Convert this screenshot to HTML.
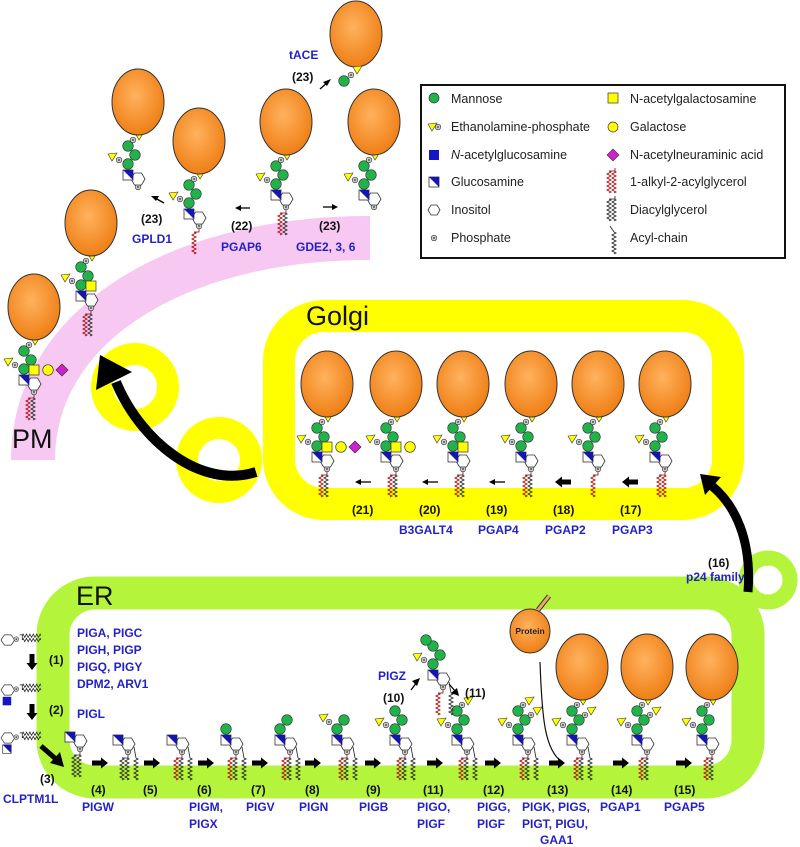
<!DOCTYPE html>
<html><head><meta charset="utf-8"><style>
html,body{margin:0;padding:0;background:#fff}
svg{display:block}
.b{font-family:"Liberation Sans",sans-serif;font-weight:bold;font-size:12px;fill:#2222cc}
.k{font-family:"Liberation Sans",sans-serif;font-weight:bold;font-size:12px;fill:#111}
.lg{font-family:"Liberation Sans",sans-serif;font-size:12.5px;fill:#222}
.big{font-family:"Liberation Sans",sans-serif;font-size:27px;fill:#111}
</style></head><body>
<svg width="800" height="847" viewBox="0 0 800 847" xmlns="http://www.w3.org/2000/svg">
<defs>
<radialGradient id="og" cx="45%" cy="40%" r="60%"><stop offset="0" stop-color="#ffb25e"/><stop offset="1" stop-color="#ef7f15"/></radialGradient>
<ellipse id="bal" cx="0" cy="-88" rx="26" ry="33" fill="url(#og)" stroke="#333" stroke-width="1"/>
<path id="zz" d="M0,0 l2,1 l-4,2 l4,2 l-4,2 l4,2 l-4,2 l4,2 l-4,2 l4,2 l-4,2 l4,2 l-2,1" fill="none" stroke-width="0.9"/>
<g id="P"><circle r="2.8" fill="#ccc" stroke="#333" stroke-width="0.6"/><circle r="0.9" fill="#333"/></g>
<g id="tri"><polygon points="-4,-3 5,-4 0,4" fill="#ff0" stroke="#333" stroke-width="0.6"/></g>
<g id="base">
 <use href="#P" x="0" y="-3"/>
 <polygon points="7,-11 3.5,-5 -3.5,-5 -7,-11 -3.5,-17 3.5,-17" fill="#fff" stroke="#333" stroke-width="0.8"/>
 <rect x="-15" y="-20" width="10" height="10" fill="#fff" stroke="#333" stroke-width="0.8"/>
 <polygon points="-15,-20 -5,-20 -5,-10" fill="#1515b0"/>
</g>
<g id="man">
 <circle cx="-10" cy="-26" r="5.3" fill="#1fb34a" stroke="#333" stroke-width="0.6"/>
 <circle cx="-3" cy="-35" r="5.3" fill="#1fb34a" stroke="#333" stroke-width="0.6"/>
 <circle cx="-10" cy="-44" r="5.3" fill="#1fb34a" stroke="#333" stroke-width="0.6"/>
 <use href="#P" x="-19" y="-30"/><use href="#tri" x="-26" y="-33"/>
</g>
<g id="top"><use href="#P" x="-5" y="-50"/><use href="#tri" x="1" y="-54"/></g>
<g id="full"><use href="#base"/><use href="#man"/><use href="#top"/><use href="#bal"/></g>
<g id="lipRA"><path d="M0,0 V3 H-6" fill="none" stroke="#900" stroke-width="0.8"/><use href="#zz" x="-6" y="3" stroke="#a00"/><use href="#zz" x="-1" y="3" stroke="#222"/></g>
<g id="lipBB"><path d="M0,0 V3 H-6" fill="none" stroke="#222" stroke-width="0.8"/><use href="#zz" x="-6" y="3" stroke="#222"/><use href="#zz" x="-1" y="3" stroke="#222"/></g>
<g id="lipRR"><path d="M0,0 V3 H-6" fill="none" stroke="#900" stroke-width="0.8"/><use href="#zz" x="-6" y="3" stroke="#a00"/><use href="#zz" x="-1" y="3" stroke="#a00"/></g>
<g id="lipR"><path d="M0,0 V3 H-5" fill="none" stroke="#900" stroke-width="0.8"/><use href="#zz" x="-5" y="3" stroke="#a00"/></g>
<g id="acyl"><path d="M6,-8 L8,3" fill="none" stroke="#222" stroke-width="0.8"/><use href="#zz" x="8" y="3" stroke="#222"/></g>
<g id="ar"><polygon points="-8,-2.5 1,-2.5 1,-5.5 8,0 1,5.5 1,2.5 -8,2.5" fill="#000"/></g>
<g id="gal1"><rect x="-5" y="-30" width="10" height="10" fill="#ff0" stroke="#333" stroke-width="0.7"/></g>
<g id="gal2"><circle cx="14" cy="-25" r="5.3" fill="#ff0" stroke="#333" stroke-width="0.7"/></g>
<g id="gal3"><polygon points="28,-31 34,-25 28,-19 22,-25" fill="#d020d0" stroke="#333" stroke-width="0.7"/></g>
</defs>

<!-- PM -->
<path d="M33,460 C 33,330 170,238 370,238" fill="none" stroke="#f7c8f1" stroke-width="44"/>
<text class="big" x="12" y="448">PM</text>

<!-- Golgi -->
<rect x="279" y="316" width="449" height="188" rx="45" fill="none" stroke="#ffff00" stroke-width="32"/>
<text class="big" x="306" y="325">Golgi</text>
<circle cx="135" cy="387" r="33" fill="none" stroke="#ffff00" stroke-width="22"/>
<circle cx="219" cy="460" r="32" fill="none" stroke="#ffff00" stroke-width="22"/>
<path d="M256,472 C 200,490 140,440 116,382" fill="none" stroke="#000" stroke-width="10"/>
<polygon points="100,355 96,390 132,372" fill="#000"/>

<!-- ER -->
<rect x="53" y="593" width="695" height="189" rx="42" fill="none" stroke="#b4f43a" stroke-width="33"/>
<circle cx="768" cy="580" r="22" fill="none" stroke="#b4f43a" stroke-width="15"/>
<text class="big" x="76" y="605">ER</text>
<path d="M748,592 C 752,540 735,505 712,486" fill="none" stroke="#000" stroke-width="9"/>
<polygon points="700,474 721,477 705,495" fill="#000"/>
<text class="k" x="708" y="567">(16)</text>
<text class="b" x="686" y="581">p24 family</text>

<!-- Legend -->
<rect x="421" y="85" width="364" height="173" fill="#fff" stroke="#111" stroke-width="2"/>
<circle cx="434" cy="98" r="5" fill="#1fb34a" stroke="#333" stroke-width="0.7"/>
<use href="#tri" x="432" y="127"/><use href="#P" x="438" y="127"/>
<rect x="429" y="150" width="10" height="10" fill="#1515c8"/>
<rect x="429" y="177" width="10" height="10" fill="#fff" stroke="#333" stroke-width="0.8"/><polygon points="429,177 439,177 439,187" fill="#1515b0"/>
<polygon points="440,210 437,215 431,215 428,210 431,205 437,205" fill="#fff" stroke="#333" stroke-width="0.8"/>
<use href="#P" x="434" y="238"/>
<rect x="608" y="93" width="10" height="10" fill="#ff0" stroke="#333" stroke-width="0.7"/>
<circle cx="613" cy="127" r="5" fill="#ff0" stroke="#333" stroke-width="0.7"/>
<polygon points="613,149 619,155 613,161 607,155" fill="#d020d0" stroke="#333" stroke-width="0.6"/>
<use href="#lipRR" x="615" y="168"/>
<use href="#lipBB" x="615" y="196"/>
<path d="M610,226 L614,232" stroke="#222" stroke-width="0.8"/><use href="#zz" x="614" y="232" stroke="#222"/>
<g class="lg">
<text x="451" y="103">Mannose</text>
<text x="451" y="131">Ethanolamine-phosphate</text>
<text x="451" y="159"><tspan font-style="italic">N</tspan>-acetylglucosamine</text>
<text x="451" y="186">Glucosamine</text>
<text x="451" y="214">Inositol</text>
<text x="451" y="242">Phosphate</text>
<text x="630" y="103">N-acetylgalactosamine</text>
<text x="630" y="131">Galactose</text>
<text x="630" y="159">N-acetylneuraminic acid</text>
<text x="630" y="186">1-alkyl-2-acylglycerol</text>
<text x="630" y="214">Diacylglycerol</text>
<text x="630" y="242">Acyl-chain</text>
</g>

<!-- PM structures -->
<use href="#full" x="138" y="190"/>
<use href="#full" x="199" y="229"/><use href="#lipR" x="199" y="229"/>
<use href="#full" x="286" y="210"/><use href="#lipRA" x="286" y="210"/>
<use href="#full" x="374" y="210"/>
<ellipse cx="356" cy="34" rx="26" ry="33" fill="url(#og)" stroke="#333"/>
<use href="#tri" x="357" y="70"/><use href="#P" x="351" y="75"/>
<circle cx="344" cy="81" r="5.3" fill="#1fb34a" stroke="#333" stroke-width="0.6"/>
<use href="#full" x="91" y="311"/><use href="#gal1" x="91" y="311"/><use href="#lipRA" x="91" y="311"/>
<use href="#full" x="34" y="395"/><use href="#gal1" x="34" y="395"/><use href="#gal2" x="34" y="395"/><use href="#gal3" x="34" y="395"/><use href="#lipRA" x="34" y="395"/>
<text class="b" x="289" y="59">tACE</text>
<text class="k" x="292" y="81">(23)</text>
<path d="M320,89 L328,82" stroke="#000" stroke-width="1.3"/><polygon points="331,79 323,82 327,86" fill="#000"/>
<text class="k" x="141" y="223">(23)</text>
<text class="b" x="132" y="243">GPLD1</text>
<path d="M164,203 L155,198" stroke="#000" stroke-width="1.3"/><polygon points="151,196 159,196 156,201" fill="#000"/>
<text class="k" x="231" y="230">(22)</text>
<text class="b" x="221" y="251">PGAP6</text>
<path d="M250,208 L240,208" stroke="#000" stroke-width="1.3"/><polygon points="235,208 241,205 241,211" fill="#000"/>
<text class="k" x="319" y="230">(23)</text>
<text class="b" x="296" y="251">GDE2, 3, 6</text>
<path d="M323,207 L333,207" stroke="#000" stroke-width="1.3"/><polygon points="338,207 332,204 332,210" fill="#000"/>

<!-- Golgi structures -->
<use href="#full" x="327" y="472"/><use href="#gal1" x="327" y="472"/><use href="#gal2" x="327" y="472"/><use href="#gal3" x="327" y="472"/><use href="#lipRA" x="327" y="472"/>
<use href="#full" x="396" y="472"/><use href="#gal1" x="396" y="472"/><use href="#gal2" x="396" y="472"/><use href="#lipRA" x="396" y="472"/>
<use href="#full" x="463" y="472"/><use href="#gal1" x="463" y="472"/><use href="#lipRA" x="463" y="472"/>
<use href="#full" x="531" y="472"/><use href="#lipRA" x="531" y="472"/>
<use href="#full" x="598" y="472"/><use href="#lipR" x="598" y="472"/>
<use href="#full" x="665" y="472"/><use href="#lipRR" x="665" y="472"/>
<g stroke="#000" stroke-width="1.3">
<path d="M371,482 H358"/><path d="M438,482 H425"/><path d="M505,482 H492"/>
</g>
<polygon points="355,482 361,479 361,485" fill="#000"/><polygon points="422,482 428,479 428,485" fill="#000"/><polygon points="489,482 495,479 495,485" fill="#000"/>
<use href="#ar" x="563" y="482" transform="rotate(180 563 482)"/>
<use href="#ar" x="630" y="482" transform="rotate(180 630 482)"/>
<text class="k" x="352" y="514">(21)</text><text class="k" x="419" y="514">(20)</text><text class="k" x="486" y="514">(19)</text><text class="k" x="553" y="514">(18)</text><text class="k" x="620" y="514">(17)</text>
<text class="b" x="399" y="534">B3GALT4</text><text class="b" x="478" y="534">PGAP4</text><text class="b" x="545" y="534">PGAP2</text><text class="b" x="612" y="534">PGAP3</text>

<!-- ER left pre-steps -->
<g transform="translate(18,640) scale(0.85)">
<polygon points="-4,0 -8,6 -16,6 -20,0 -16,-6 -8,-6" fill="#fff" stroke="#333" stroke-width="0.8"/><use href="#P" x="-2" y="-1"/>
<use href="#lipBB" x="2" y="-6" transform="rotate(-90 2 -6)"/>
</g>
<g transform="translate(18,690) scale(0.85)">
<polygon points="-4,0 -8,6 -16,6 -20,0 -16,-6 -8,-6" fill="#fff" stroke="#333" stroke-width="0.8"/><use href="#P" x="-2" y="-1"/>
<use href="#lipBB" x="2" y="-6" transform="rotate(-90 2 -6)"/>
<rect x="-18" y="8" width="10" height="10" fill="#1515c8"/>
</g>
<g transform="translate(18,738) scale(0.85)">
<polygon points="-4,0 -8,6 -16,6 -20,0 -16,-6 -8,-6" fill="#fff" stroke="#333" stroke-width="0.8"/><use href="#P" x="-2" y="-1"/>
<use href="#lipBB" x="2" y="-6" transform="rotate(-90 2 -6)"/>
<rect x="-18" y="8" width="10" height="10" fill="#fff" stroke="#333" stroke-width="0.8"/><polygon points="-18,8 -8,8 -8,18" fill="#1515b0"/>
</g>
<use href="#ar" x="32" y="662" transform="rotate(90 32 662)"/>
<use href="#ar" x="32" y="712" transform="rotate(90 32 712)"/>
<path d="M41,746 L57,760" stroke="#000" stroke-width="5"/><polygon points="64,767 50,763 60,752" fill="#000"/>
<text class="k" x="49" y="664">(1)</text>
<text class="k" x="49" y="714">(2)</text>
<text class="k" x="40" y="783">(3)</text>
<text class="b" x="3" y="803">CLPTM1L</text>
<text class="b" x="77" y="637">PIGA, PIGC</text>
<text class="b" x="77" y="654">PIGH, PIGP</text>
<text class="b" x="77" y="671">PIGQ, PIGY</text>
<text class="b" x="77" y="688">DPM2, ARV1</text>
<text class="b" x="77" y="718">PIGL</text>

<!-- ER structures -->
<use href="#base" x="80" y="752"/><use href="#lipBB" x="80" y="752"/>
<use href="#base" x="128" y="755"/><use href="#lipBB" x="128" y="755"/><use href="#acyl" x="128" y="755"/>
<use href="#base" x="182" y="755"/><use href="#lipRA" x="182" y="755"/><use href="#acyl" x="182" y="755"/>
<use href="#base" x="236" y="755"/><use href="#lipRA" x="236" y="755"/><use href="#acyl" x="236" y="755"/>
<circle cx="226" cy="729" r="5.3" fill="#1fb34a" stroke="#333" stroke-width="0.6"/>
<use href="#base" x="290" y="755"/><use href="#lipRA" x="290" y="755"/><use href="#acyl" x="290" y="755"/>
<circle cx="280" cy="729" r="5.3" fill="#1fb34a" stroke="#333" stroke-width="0.6"/><circle cx="287" cy="720" r="5.3" fill="#1fb34a" stroke="#333" stroke-width="0.6"/>
<use href="#base" x="347" y="755"/><use href="#lipRA" x="347" y="755"/><use href="#acyl" x="347" y="755"/>
<circle cx="337" cy="729" r="5.3" fill="#1fb34a" stroke="#333" stroke-width="0.6"/><circle cx="344" cy="720" r="5.3" fill="#1fb34a" stroke="#333" stroke-width="0.6"/>
<use href="#P" x="329" y="722"/><use href="#tri" x="323" y="718"/>
<use href="#base" x="405" y="755"/><use href="#man" x="405" y="755"/><use href="#lipRA" x="405" y="755"/><use href="#acyl" x="405" y="755"/>
<use href="#base" x="467" y="755"/><use href="#man" x="467" y="755"/><use href="#top" x="467" y="755"/><use href="#lipRA" x="467" y="755"/><use href="#acyl" x="467" y="755"/>
<use href="#base" x="528" y="755"/><use href="#man" x="528" y="755"/><use href="#top" x="528" y="755"/><use href="#lipRA" x="528" y="755"/><use href="#acyl" x="528" y="755"/>
<use href="#P" x="531" y="715"/><use href="#tri" x="537" y="711"/>
<use href="#full" x="582" y="755"/><use href="#lipRA" x="582" y="755"/><use href="#acyl" x="582" y="755"/>
<use href="#P" x="585" y="715"/><use href="#tri" x="591" y="711"/>
<use href="#full" x="647" y="755"/><use href="#lipRA" x="647" y="755"/>
<use href="#P" x="650" y="715"/><use href="#tri" x="656" y="711"/>
<use href="#full" x="712" y="755"/><use href="#lipRA" x="712" y="755"/>
<!-- PIGZ branch -->
<use href="#base" x="443" y="690"/><use href="#man" x="443" y="690"/><use href="#lipR" x="443" y="690"/><use href="#acyl" x="443" y="690"/>
<circle cx="426" cy="640" r="5.3" fill="#1fb34a" stroke="#333" stroke-width="0.6"/>
<text class="b" x="378" y="680">PIGZ</text>
<text class="k" x="383" y="702">(10)</text>
<path d="M411,690 L417,682" stroke="#000" stroke-width="1.3"/><polygon points="420,678 412,681 417,686" fill="#000"/>
<text class="k" x="465" y="697">(11)</text>
<path d="M449,684 L456,692" stroke="#000" stroke-width="1.3"/><polygon points="459,696 451,693 457,688" fill="#000"/>
<!-- Protein -->
<path d="M538,610 L549,596" stroke="#333" stroke-width="5"/><path d="M538,610 L549,596" stroke="#f0a860" stroke-width="3"/>
<ellipse cx="530" cy="631" rx="20" ry="22" fill="url(#og)" stroke="#333"/>
<text x="530" y="634" text-anchor="middle" style="font-family:'Liberation Sans',sans-serif;font-weight:bold;font-size:8.5px;fill:#222">Protein</text>
<path d="M540,662 C 542,720 545,750 562,762" fill="none" stroke="#111" stroke-width="1.2"/>

<g>
<use href="#ar" x="100" y="763"/><use href="#ar" x="152" y="763"/><use href="#ar" x="206" y="763"/><use href="#ar" x="260" y="763"/><use href="#ar" x="313" y="763"/><use href="#ar" x="373" y="763"/><use href="#ar" x="435" y="763"/><use href="#ar" x="493" y="763"/><use href="#ar" x="557" y="763"/><use href="#ar" x="621" y="763"/><use href="#ar" x="684" y="763"/>
</g>
<g class="k">
<text x="91" y="794">(4)</text><text x="143" y="794">(5)</text><text x="197" y="794">(6)</text><text x="251" y="794">(7)</text><text x="305" y="794">(8)</text><text x="366" y="794">(9)</text>
<text x="423" y="794">(11)</text><text x="483" y="794">(12)</text><text x="547" y="794">(13)</text><text x="611" y="794">(14)</text><text x="674" y="794">(15)</text>
</g>
<g class="b">
<text x="82" y="811">PIGW</text>
<text x="189" y="811">PIGM,</text><text x="189" y="828">PIGX</text>
<text x="246" y="811">PIGV</text>
<text x="299" y="811">PIGN</text>
<text x="359" y="811">PIGB</text>
<text x="417" y="811">PIGO,</text><text x="417" y="828">PIGF</text>
<text x="477" y="811">PIGG,</text><text x="477" y="828">PIGF</text>
<text x="522" y="811">PIGK, PIGS,</text><text x="522" y="828">PIGT, PIGU,</text><text x="540" y="844">GAA1</text>
<text x="600" y="811">PGAP1</text>
<text x="664" y="811">PGAP5</text>
</g>
</svg>
</body></html>
